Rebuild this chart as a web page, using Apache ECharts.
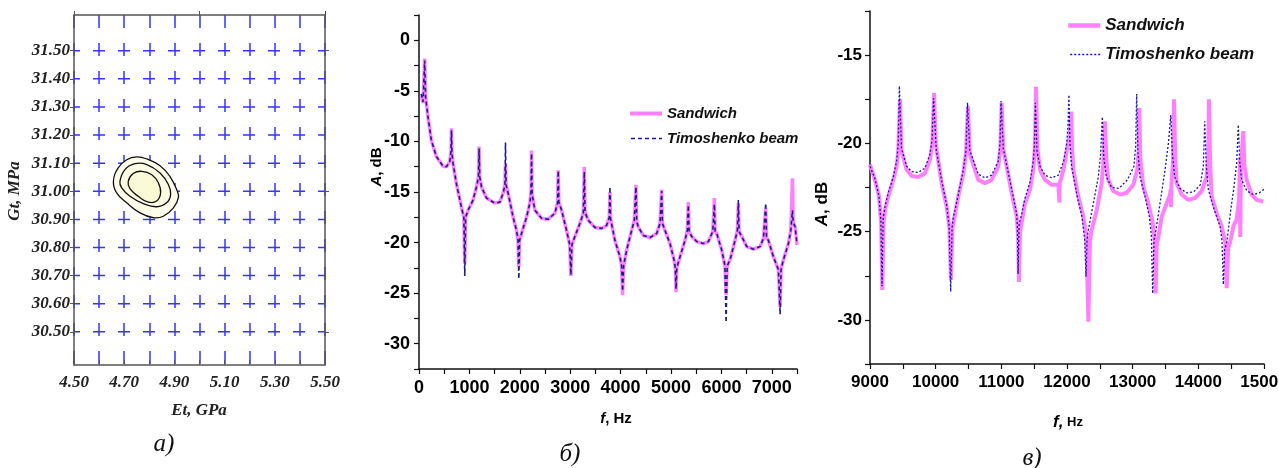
<!DOCTYPE html>
<html>
<head>
<meta charset="utf-8">
<script src="https://cdn.jsdelivr.net/npm/echarts@6/dist/echarts.min.js"></script>
<style>
html,body{margin:0;padding:0;background:#fff;}
#chart{width:1279px;height:468px;}
</style>
</head>
<body>
<div id="chart"></div>
<script>
// ---------- Panel a: contour data (Et, GPa ; Gt, MPa) ----------
const contourOuter = [[4.657,31.035],[4.676,31.083],[4.710,31.112],[4.750,31.122],[4.790,31.115],[4.843,31.091],[4.882,31.053],[4.909,31.006],[4.916,30.977],[4.896,30.941],[4.856,30.911],[4.816,30.906],[4.763,30.923],[4.710,30.959],[4.670,30.994]];
const contourMiddle = [[4.683,31.035],[4.703,31.077],[4.743,31.098],[4.790,31.095],[4.843,31.065],[4.876,31.024],[4.885,30.988],[4.869,30.959],[4.829,30.945],[4.776,30.956],[4.723,30.982],[4.690,31.012]];
const contourInner = [[4.716,31.035],[4.736,31.063],[4.770,31.071],[4.810,31.059],[4.836,31.030],[4.845,30.994],[4.829,30.965],[4.796,30.961],[4.756,30.982],[4.723,31.009]];
const yTicksA = [30.5,30.6,30.7,30.8,30.9,31.0,31.1,31.2,31.3,31.4,31.5];
const yMajorA = [30.5,31.0,31.5];

// ---------- Panel b: f (Hz), A (dB) ----------
const sandwichB = [[50,-5.5],[80,-6.2],[100,-6.3],[113,-1.8],[130,-5.5],[179,-7.6],[246,-9.9],[345,-11.5],[477,-12.45],[544,-12.5],[610,-12.0],[635,-11.0],[644,-8.7],[655,-11.2],[676,-12.2],[743,-14.2],[842,-16.5],[890,-17.5],[908,-22.1],[925,-17.5],[974,-16.8],[1073,-15.8],[1140,-14.5],[1180,-13.5],[1192,-10.5],[1205,-13.5],[1240,-14.5],[1340,-15.6],[1504,-16.1],[1604,-16.0],[1670,-15.1],[1705,-14.3],[1716,-12.2],[1728,-14.3],[1768,-15.1],[1868,-17.5],[1935,-18.8],[1965,-19.8],[1981,-22.4],[1995,-19.8],[2034,-19.1],[2134,-17.5],[2200,-16.1],[2222,-15.0],[2233,-10.9],[2245,-15.2],[2299,-16.8],[2432,-17.6],[2563,-17.7],[2696,-17.1],[2749,-16.1],[2762,-12.85],[2775,-16.0],[2829,-16.8],[2928,-18.8],[2990,-20.2],[3014,-23.3],[3035,-20.2],[3093,-19.4],[3193,-18.1],[3260,-17.1],[3280,-12.5],[3295,-17.0],[3357,-17.8],[3490,-18.5],[3623,-18.6],[3723,-18.3],[3775,-17.5],[3789,-15.0],[3800,-17.6],[3888,-19.8],[3987,-21.4],[4020,-22.3],[4040,-25.2],[4060,-22.3],[4120,-20.75],[4219,-18.8],[4272,-17.8],[4305,-14.3],[4320,-17.9],[4351,-18.45],[4450,-19.3],[4583,-19.5],[4716,-19.1],[4782,-18.1],[4815,-14.75],[4830,-18.1],[4881,-18.8],[4980,-20.1],[5060,-21.7],[5085,-22.5],[5100,-24.9],[5115,-22.5],[5179,-21.4],[5278,-19.8],[5324,-18.8],[5344,-16.0],[5360,-18.9],[5411,-19.4],[5510,-19.9],[5642,-20.1],[5741,-19.9],[5829,-18.9],[5861,-15.6],[5875,-18.9],[5908,-19.1],[6007,-20.75],[6070,-22.3],[6093,-25.2],[6115,-22.3],[6172,-21.7],[6271,-19.8],[6317,-18.8],[6337,-16.1],[6350,-18.9],[6404,-19.4],[6503,-20.4],[6635,-20.65],[6768,-20.4],[6834,-19.6],[6880,-16.6],[6895,-19.5],[6933,-19.8],[7032,-21.4],[7132,-22.7],[7165,-26.35],[7185,-22.6],[7231,-21.7],[7330,-20.1],[7377,-18.8],[7410,-13.65],[7425,-18.0],[7463,-18.45],[7500,-20.2]];
const timoshenkoB = [[40,-5.3],[60,-5.6],[80,-6.1],[100,-6.2],[113,-2.0],[130,-5.6],[179,-7.6],[246,-9.9],[345,-11.5],[477,-12.45],[544,-12.5],[610,-12.0],[635,-11.0],[644,-8.9],[655,-11.2],[676,-12.2],[743,-14.2],[842,-16.5],[890,-17.5],[908,-23.3],[925,-17.5],[974,-16.8],[1073,-15.8],[1140,-14.5],[1180,-13.5],[1192,-10.7],[1205,-13.5],[1240,-14.5],[1340,-15.6],[1504,-16.1],[1604,-16.0],[1670,-15.1],[1705,-14.3],[1716,-10.1],[1728,-14.3],[1768,-15.1],[1868,-17.5],[1935,-18.8],[1965,-19.8],[1981,-23.6],[1995,-19.8],[2034,-19.1],[2134,-17.5],[2200,-16.1],[2222,-15.0],[2233,-11.2],[2245,-15.2],[2299,-16.8],[2432,-17.6],[2563,-17.7],[2696,-17.1],[2749,-16.1],[2762,-12.9],[2775,-16.0],[2829,-16.8],[2928,-18.8],[2990,-20.2],[3014,-23.2],[3035,-20.2],[3093,-19.4],[3193,-18.1],[3260,-17.1],[3280,-13.0],[3295,-17.0],[3357,-17.8],[3490,-18.5],[3623,-18.6],[3723,-18.3],[3775,-17.5],[3789,-14.5],[3800,-17.6],[3888,-19.8],[3987,-21.4],[4020,-22.3],[4040,-24.8],[4060,-22.3],[4120,-20.75],[4219,-18.8],[4272,-17.8],[4305,-14.5],[4320,-17.9],[4351,-18.45],[4450,-19.3],[4583,-19.5],[4716,-19.1],[4782,-18.1],[4815,-14.9],[4830,-18.1],[4881,-18.8],[4980,-20.1],[5060,-21.7],[5085,-22.5],[5100,-24.6],[5115,-22.5],[5179,-21.4],[5278,-19.8],[5324,-18.8],[5344,-16.3],[5360,-18.9],[5411,-19.4],[5510,-19.9],[5642,-20.1],[5741,-19.9],[5829,-18.9],[5861,-16.2],[5875,-18.9],[5908,-19.1],[6007,-20.75],[6070,-22.3],[6093,-27.9],[6115,-22.3],[6172,-21.7],[6271,-19.8],[6317,-18.8],[6337,-15.8],[6350,-18.9],[6404,-19.4],[6503,-20.4],[6635,-20.65],[6768,-20.4],[6834,-19.6],[6880,-16.1],[6895,-19.5],[6933,-19.8],[7032,-21.4],[7132,-22.7],[7165,-27.1],[7185,-22.6],[7231,-21.7],[7330,-20.1],[7377,-18.8],[7410,-16.8],[7425,-18.0],[7463,-18.45],[7500,-20.2]];

// ---------- Panel c: f (Hz), A (dB) ----------
const sandwichC = [[9000,-21.2],[9076,-22.07],[9137,-23.0],[9170,-24.5],[9188,-28.3],[9205,-24.5],[9228,-23.8],[9279,-23.0],[9355,-22.07],[9406,-21.3],[9431,-20.4],[9457,-17.5],[9480,-20.4],[9558,-21.5],[9635,-21.85],[9735,-21.9],[9837,-21.7],[9914,-20.9],[9950,-20.0],[9975,-17.15],[10000,-20.0],[10091,-22.25],[10168,-23.6],[10210,-24.8],[10233,-27.75],[10255,-24.8],[10345,-23.0],[10421,-21.7],[10462,-20.55],[10492,-17.9],[10520,-20.6],[10649,-22.07],[10751,-22.25],[10853,-22.07],[10954,-21.3],[10985,-20.3],[11005,-17.7],[11030,-20.3],[11158,-22.8],[11234,-24.15],[11255,-25.2],[11269,-27.85],[11285,-25.0],[11360,-23.4],[11437,-22.6],[11487,-21.5],[11510,-20.3],[11528,-16.8],[11550,-20.3],[11589,-21.5],[11665,-22.07],[11767,-22.35],[11870,-22.35],[11884,-23.35],[11888,-22.3],[11946,-21.5],[11997,-20.4],[12040,-19.6],[12064,-18.2],[12080,-20.5],[12097,-21.5],[12172,-23.0],[12248,-24.15],[12295,-25.3],[12325,-30.1],[12350,-25.5],[12376,-24.9],[12452,-23.8],[12528,-22.25],[12553,-21.1],[12578,-18.75],[12600,-21.0],[12629,-22.07],[12705,-22.7],[12807,-22.9],[12909,-22.8],[13010,-22.35],[13071,-21.5],[13090,-20.5],[13101,-18.0],[13115,-20.8],[13162,-22.45],[13238,-23.4],[13305,-24.5],[13335,-25.5],[13350,-28.5],[13365,-25.8],[13391,-25.3],[13442,-24.15],[13518,-23.4],[13569,-22.9],[13580,-22.6],[13584,-23.6],[13590,-22.4],[13615,-21.0],[13629,-17.5],[13650,-21.0],[13670,-22.25],[13746,-22.9],[13847,-23.2],[13949,-23.1],[14051,-22.7],[14127,-21.9],[14150,-20.8],[14162,-17.5],[14180,-21.2],[14203,-23.0],[14279,-23.95],[14355,-24.7],[14410,-25.6],[14432,-28.2],[14455,-25.9],[14482,-25.65],[14533,-24.7],[14584,-24.3],[14620,-23.2],[14634,-20.8],[14638,-25.3],[14650,-21.2],[14685,-19.3],[14700,-21.2],[14736,-22.07],[14812,-22.9],[14888,-23.2],[14990,-23.3],[15000,-23.3]];
const timoshenkoC = [[9000,-21.3],[9076,-22.0],[9137,-23.0],[9165,-24.3],[9183,-28.1],[9200,-24.3],[9228,-23.6],[9279,-22.8],[9355,-21.9],[9406,-21.0],[9431,-20.0],[9447,-16.75],[9480,-20.3],[9558,-21.3],[9635,-21.6],[9735,-21.65],[9837,-21.4],[9914,-20.6],[9945,-19.8],[9968,-17.45],[10010,-20.4],[10091,-22.1],[10168,-23.5],[10205,-24.7],[10229,-28.4],[10250,-24.8],[10269,-24.2],[10345,-22.9],[10421,-21.5],[10462,-20.4],[10485,-17.7],[10520,-20.4],[10649,-21.75],[10751,-21.95],[10853,-21.8],[10954,-21.0],[10980,-20.0],[10995,-17.6],[11030,-20.3],[11158,-22.6],[11234,-24.0],[11245,-24.8],[11255,-27.4],[11270,-24.6],[11310,-24.0],[11360,-23.1],[11437,-22.2],[11487,-21.0],[11505,-20.0],[11518,-17.7],[11545,-20.5],[11589,-21.3],[11665,-21.8],[11767,-21.95],[11868,-21.8],[11950,-21.0],[11995,-20.0],[12015,-19.0],[12029,-17.25],[12045,-20.0],[12070,-21.3],[12150,-22.9],[12230,-24.2],[12270,-25.5],[12290,-27.55],[12305,-25.5],[12320,-25.0],[12401,-23.4],[12477,-21.9],[12513,-20.55],[12538,-18.5],[12560,-20.8],[12600,-21.9],[12680,-22.5],[12790,-22.55],[12920,-22.07],[13020,-21.3],[13045,-20.2],[13061,-17.2],[13080,-20.5],[13112,-21.9],[13188,-23.0],[13254,-24.15],[13285,-25.2],[13305,-28.5],[13325,-25.5],[13355,-24.9],[13416,-23.4],[13493,-21.5],[13544,-20.0],[13580,-18.4],[13605,-20.6],[13640,-21.9],[13720,-22.55],[13824,-22.8],[13930,-22.75],[14030,-22.35],[14076,-21.3],[14097,-18.75],[14120,-21.2],[14152,-22.6],[14228,-23.6],[14330,-24.7],[14360,-25.5],[14381,-28.0],[14400,-26.0],[14432,-25.65],[14493,-23.8],[14543,-22.45],[14584,-21.1],[14609,-18.95],[14630,-21.0],[14660,-22.07],[14740,-22.7],[14838,-22.9],[14930,-22.8],[15000,-22.6]];

const contourList = [contourOuter, contourMiddle, contourInner];
const contourFill = ['#fdfdea', '#fcfce2', '#fafad6'];

const PINK = '#ff80ff';
const SERIF = '"Liberation Serif", "Times New Roman", serif';
const SANS = '"Liberation Sans", Arial, sans-serif';
const NARROW = '"Liberation Sans Narrow", "Liberation Sans", Arial, sans-serif';

const chart = echarts.init(document.getElementById('chart'), null, {renderer: 'canvas'});

const axisLineBlack = {show: true, onZero: false, lineStyle: {color: '#111', width: 1.5}};
const labelA = {fontFamily: SERIF, fontStyle: 'italic', fontWeight: 'bold', fontSize: 17, color: '#222'};

const option = {
  animation: false,
  backgroundColor: '#ffffff',
  grid: [
    {left: 74, top: 15, width: 251, height: 350, outerBoundsMode: 'none', containLabel: false},
    {left: 419, top: 15, width: 378, height: 354, outerBoundsMode: 'none', containLabel: false},
    {left: 870, top: 11, width: 394, height: 353, outerBoundsMode: 'none', containLabel: false}
  ],
  legend: [
    {
      data: [{name: 'Sandwich', lineStyle: {width: 4}}, {name: 'Timoshenko beam', lineStyle: {width: 1.6}}],
      left: 628, top: 106, orient: 'vertical',
      itemWidth: 32, itemHeight: 14, itemGap: 10, padding: 0, selectedMode: false,
      itemStyle: {opacity: 0},
      textStyle: {fontFamily: SANS, fontStyle: 'italic', fontWeight: 'bold', fontSize: 15, color: '#111'}
    },
    {
      data: [{name: 'Sandwich ', lineStyle: {width: 4.5}}, {name: 'Timoshenko beam ', lineStyle: {width: 1.3}}],
      left: 1066, top: 17, orient: 'vertical',
      itemWidth: 32, itemHeight: 14, itemGap: 12, padding: 0, selectedMode: false,
      itemStyle: {opacity: 0},
      formatter: function (n) { return n.trim(); },
      textStyle: {fontFamily: SANS, fontStyle: 'italic', fontWeight: 'bold', fontSize: 17, color: '#111'}
    }
  ],
  xAxis: [
    {
      gridIndex: 0, type: 'value', min: 4.5, max: 5.5, interval: 0.1,
      axisLine: {show: true, onZero: false, lineStyle: {color: '#555', width: 1.5}},
      axisTick: {show: true, inside: true, length: 5, lineStyle: {color: '#555'}},
      axisLabel: Object.assign({margin: 9, formatter: function (v) { return (Math.round(v * 10) % 2 === 1) ? v.toFixed(2) : ''; }}, labelA),
      splitLine: {show: true, lineStyle: {color: '#3535ff', width: 1.5, type: [13, 15]}}
    },
    {
      gridIndex: 0, type: 'value', position: 'top', min: 4.5, max: 5.5, interval: 0.5,
      axisLine: {show: true, onZero: false, lineStyle: {color: '#555', width: 1.5}},
      axisTick: {show: true, inside: false, length: 4, lineStyle: {color: '#555'}},
      axisLabel: {show: false}, splitLine: {show: false}
    },
    {
      gridIndex: 1, type: 'value', min: 0, max: 7500, interval: 500,
      axisLine: axisLineBlack,
      axisTick: {show: true, length: 5, lineStyle: {color: '#111', width: 1.2}},
      axisLabel: {margin: 10, color: '#000', fontFamily: NARROW, fontWeight: 'bold', fontSize: 18,
        formatter: function (v) { return v % 1000 === 0 ? String(v) : ''; }},
      splitLine: {show: false}
    },
    {
      gridIndex: 2, type: 'value', min: 9000, max: 15000, interval: 500,
      axisLine: axisLineBlack,
      axisTick: {show: true, length: 5, lineStyle: {color: '#111', width: 1.2}},
      axisLabel: {margin: 10, color: '#000', fontFamily: SANS, fontWeight: 'bold', fontSize: 17, hideOverlap: false,
        formatter: function (v) { return v % 1000 === 0 ? String(v) : ''; }},
      splitLine: {show: false}
    }
  ],
  yAxis: [
    {
      gridIndex: 0, type: 'value', min: 30.382, max: 31.627,
      axisLine: {show: true, onZero: false, lineStyle: {color: '#555', width: 1.5}},
      axisTick: {show: true, length: 4, customValues: yTicksA, lineStyle: {color: '#555'}},
      axisLabel: Object.assign({margin: 4, customValues: yTicksA, formatter: function (v) { return v.toFixed(2); }}, labelA),
      splitLine: {show: false}
    },
    {
      gridIndex: 0, type: 'value', position: 'right', min: 30.382, max: 31.627,
      axisLine: {show: true, onZero: false, lineStyle: {color: '#555', width: 1.5}},
      axisTick: {show: true, length: 4, customValues: yMajorA, lineStyle: {color: '#555'}},
      axisLabel: {show: false}, splitLine: {show: false}
    },
    {
      gridIndex: 1, type: 'value', min: -32.5, max: 2.5, interval: 2.5,
      axisLine: axisLineBlack,
      axisTick: {show: true, length: 5, lineStyle: {color: '#111', width: 1.2}},
      axisLabel: {margin: 9, color: '#000', fontFamily: NARROW, fontWeight: 'bold', fontSize: 18,
        formatter: function (v) { return (Math.abs(v % 5) < 1e-9) ? String(v) : ''; }},
      splitLine: {show: false}
    },
    {
      gridIndex: 2, type: 'value', min: -32.5, max: -12.5, interval: 2.5,
      axisLine: axisLineBlack,
      axisTick: {show: true, length: 5, lineStyle: {color: '#111', width: 1.2}},
      axisLabel: {margin: 8, color: '#000', fontFamily: SANS, fontWeight: 'bold', fontSize: 17,
        formatter: function (v) { return (Math.abs(v % 5) < 1e-9) ? String(v) : ''; }},
      splitLine: {show: false}
    }
  ],
  series: [
    {
      name: 'gridH', type: 'custom', xAxisIndex: 0, yAxisIndex: 0, silent: true, z: 1,
      data: yTicksA.map(function (v) { return [4.5, v]; }),
      renderItem: function (params, api) {
        const y = api.value(1);
        const p1 = api.coord([4.5, y]);
        const p2 = api.coord([5.5, y]);
        return {type: 'line', shape: {x1: p1[0], y1: p1[1], x2: p2[0], y2: p2[1]},
          style: {stroke: '#3535ff', lineWidth: 1.5, lineDash: [12, 13], lineDashOffset: 6}};
      }
    },
    {
      name: 'contours', type: 'custom', xAxisIndex: 0, yAxisIndex: 0, silent: true, z: 3,
      data: contourList.map(function (c) { return c[0]; }),
      renderItem: function (params, api) {
        const pts = contourList[params.dataIndex].map(function (p) { return api.coord(p); });
        return {type: 'polygon', shape: {points: pts, smooth: 0.45},
          style: {fill: contourFill[params.dataIndex], stroke: '#111', lineWidth: 1.3}};
      }
    },
    {
      name: 'Sandwich', type: 'line', xAxisIndex: 2, yAxisIndex: 2, data: sandwichB,
      symbol: 'none', showSymbol: false, lineStyle: {color: PINK, width: 3.5}, itemStyle: {color: PINK}, z: 2
    },
    {
      name: 'Timoshenko beam', type: 'line', xAxisIndex: 2, yAxisIndex: 2, data: timoshenkoB,
      symbol: 'none', showSymbol: false, lineStyle: {color: '#1c1c8c', width: 1.6, type: [4, 3]}, itemStyle: {color: '#1c1c8c'}, z: 3
    },
    {
      name: 'Sandwich ', type: 'line', xAxisIndex: 3, yAxisIndex: 3, data: sandwichC,
      symbol: 'none', showSymbol: false, lineStyle: {color: PINK, width: 4}, itemStyle: {color: PINK}, z: 2
    },
    {
      name: 'Timoshenko beam ', type: 'line', xAxisIndex: 3, yAxisIndex: 3, data: timoshenkoC,
      symbol: 'none', showSymbol: false, lineStyle: {color: '#1414b4', width: 1.3, type: [2, 2]}, itemStyle: {color: '#1414b4'}, z: 3
    }
  ],
  graphic: [
    {type: 'text', x: 15, y: 191, rotation: Math.PI / 2,
      style: {text: 'Gt, MPa', font: 'italic bold 17px ' + SERIF, fill: '#222', align: 'center', verticalAlign: 'middle', textAlign: 'center', textVerticalAlign: 'middle'}},
    {type: 'text', x: 199, y: 411,
      style: {text: 'Et, GPa', font: 'italic bold 17px ' + SERIF, fill: '#222', align: 'center', verticalAlign: 'middle', textAlign: 'center', textVerticalAlign: 'middle'}},
    {type: 'text', x: 164, y: 444,
      style: {text: 'а)', font: 'italic 25px ' + SERIF, fill: '#111', align: 'center', verticalAlign: 'middle', textAlign: 'center', textVerticalAlign: 'middle'}},
    {type: 'text', x: 377, y: 167, rotation: Math.PI / 2,
      style: {text: '{i|A}{n|, dB}', align: 'center', verticalAlign: 'middle', textAlign: 'center', textVerticalAlign: 'middle',
        rich: {i: {font: 'italic bold 15px ' + SANS, fill: '#000'}, n: {font: 'bold 15px ' + SANS, fill: '#000'}}}},
    {type: 'text', x: 616, y: 419,
      style: {text: '{i|f}{n|, Hz}', align: 'center', verticalAlign: 'middle', textAlign: 'center', textVerticalAlign: 'middle',
        rich: {i: {font: 'italic bold 15px ' + SANS, fill: '#000'}, n: {font: 'bold 15px ' + SANS, fill: '#000'}}}},
    {type: 'text', x: 570, y: 454,
      style: {text: 'б)', font: 'italic 25px ' + SERIF, fill: '#111', align: 'center', verticalAlign: 'middle', textAlign: 'center', textVerticalAlign: 'middle'}},
    {type: 'text', x: 822, y: 204, rotation: Math.PI / 2,
      style: {text: '{i|A}{n|, dB}', align: 'center', verticalAlign: 'middle', textAlign: 'center', textVerticalAlign: 'middle',
        rich: {i: {font: 'italic bold 17px ' + SANS, fill: '#000'}, n: {font: 'bold 17px ' + SANS, fill: '#000'}}}},
    {type: 'text', x: 1068, y: 422,
      style: {text: '{i|f,}{n| Hz}', align: 'center', verticalAlign: 'middle', textAlign: 'center', textVerticalAlign: 'middle',
        rich: {i: {font: 'italic bold 17px ' + SANS, fill: '#000'}, n: {font: 'bold 13px ' + SANS, fill: '#000'}}}},
    {type: 'text', x: 1032, y: 458,
      style: {text: 'в)', font: 'italic 25px ' + SERIF, fill: '#111', align: 'center', verticalAlign: 'middle', textAlign: 'center', textVerticalAlign: 'middle'}}
  ]
};
chart.setOption(option);
</script>
</body>
</html>
